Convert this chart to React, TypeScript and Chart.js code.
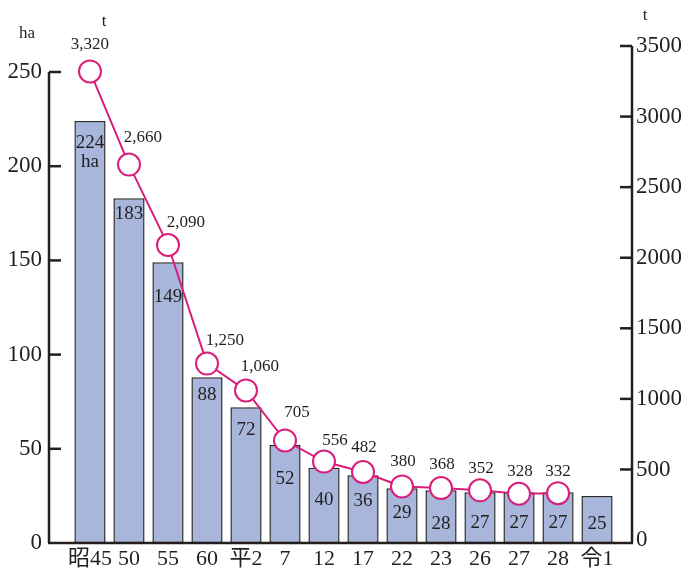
import React, { useEffect, useRef } from "react";
import { Chart, registerables } from "chart.js";

Chart.register(...registerables);

const categories = ["昭45", "50", "55", "60", "平2", "7", "12", "17", "22", "23", "26", "27", "28", "令1"];
const areaHa = [224, 183, 149, 88, 72, 52, 40, 36, 29, 28, 27, 27, 27, 25];
const harvestT = [3320, 2660, 2090, 1250, 1060, 705, 556, 482, 380, 368, 352, 328, 332];
const harvestLabels = ["3,320", "2,660", "2,090", "1,250", "1,060", "705", "556", "482", "380", "368", "352", "328", "332"];
const leftTicks = [0, 50, 100, 150, 200, 250];
const rightTicks = [0, 500, 1000, 1500, 2000, 2500, 3000, 3500];

// label placement (layout, not data)
const barLabelDrop = [22, 16, 35, 18, 23, 34, 32, 26, 25, 34, 31, 31, 31, 28];
const lineLabelDx = [0, 14, 18, 18, 14, 12, 11, 1, 1, 1, 1, 1, 0];
const lineLabelDy = [-27, -27, -22, -23, -24, -28, -21, -24, -25, -24, -22, -22, -22];

const FONT = '"Liberation Serif", "Noto Sans CJK JP", serif';
const INK = "#231f20";
const PINK = "#d81e7b";
const BAR = "#a8b6db";

const overlay = {
  id: "overlay",
  afterDatasetDraw(chart: any, args: any) {
    if (args.index !== 0) return;
    const ctx = chart.ctx;
    const meta = chart.getDatasetMeta(0);
    ctx.save();
    ctx.fillStyle = INK;
    ctx.font = `19px ${FONT}`;
    ctx.textAlign = "center";
    ctx.textBaseline = "middle";
    meta.data.forEach((bar: any, i: number) => {
      const y = bar.y + barLabelDrop[i];
      ctx.fillText(String(areaHa[i]), bar.x, y);
      if (i === 0) ctx.fillText("ha", bar.x, y + 19);
    });
    ctx.restore();
  },
  afterDraw(chart: any) {
    const ctx = chart.ctx;
    const { left, right, bottom } = chart.chartArea;
    const yL = chart.scales.y;
    const yR = chart.scales.y2;
    ctx.save();
    ctx.strokeStyle = INK;
    ctx.lineWidth = 2.5;
    ctx.lineCap = "butt";
    // left axis
    ctx.beginPath();
    ctx.moveTo(left, yL.getPixelForValue(250));
    ctx.lineTo(left, bottom);
    ctx.stroke();
    leftTicks.forEach((v) => {
      if (v === 0) return;
      const p = yL.getPixelForValue(v);
      ctx.beginPath();
      ctx.moveTo(left, p);
      ctx.lineTo(left + 12, p);
      ctx.stroke();
    });
    // right axis
    ctx.beginPath();
    ctx.moveTo(right, yR.getPixelForValue(3500));
    ctx.lineTo(right, bottom);
    ctx.stroke();
    rightTicks.forEach((v) => {
      if (v === 0) return;
      const p = yR.getPixelForValue(v);
      ctx.beginPath();
      ctx.moveTo(right, p);
      ctx.lineTo(right - 12, p);
      ctx.stroke();
    });
    // x axis
    ctx.beginPath();
    ctx.moveTo(left - 1, bottom);
    ctx.lineTo(right + 1, bottom);
    ctx.stroke();

    // line labels
    const meta = chart.getDatasetMeta(1);
    ctx.fillStyle = INK;
    ctx.font = `17px ${FONT}`;
    ctx.textAlign = "center";
    ctx.textBaseline = "middle";
    meta.data.forEach((pt: any, i: number) => {
      ctx.fillText(harvestLabels[i], pt.x + lineLabelDx[i], pt.y + lineLabelDy[i]);
    });
    // units
    const p0 = meta.data[0];
    ctx.fillText("t", p0.x + 14, 22);
    ctx.fillText("ha", 27, 34);
    ctx.fillText("t", 645, 16);
    ctx.restore();
  },
};

export default function App() {
  const ref = useRef<HTMLCanvasElement | null>(null);
  useEffect(() => {
    if (!ref.current) return;
    const chart = new Chart(ref.current, {
      type: "bar",
      data: {
        datasets: [
          {
            type: "bar",
            label: "面積",
            data: areaHa.map((v, i) => ({ x: i, y: v })),
            backgroundColor: BAR,
            borderColor: "#2b2b2b",
            borderWidth: 1.5,
            borderSkipped: false,
            categoryPercentage: 1,
            barPercentage: 0.8,
            yAxisID: "y",
            xAxisID: "x",
            order: 1,
          } as any,
          {
            type: "line",
            label: "収穫量",
            data: harvestT.map((v, i) => ({ x: i, y: v })),
            borderColor: PINK,
            borderWidth: 2,
            pointRadius: 11,
            pointBorderWidth: 2,
            pointBorderColor: PINK,
            pointBackgroundColor: "#ffffff",
            tension: 0,
            yAxisID: "y2",
            xAxisID: "x",
            order: 0,
          } as any,
        ],
      },
      options: {
        animation: false,
        responsive: true,
        maintainAspectRatio: false,
        layout: { padding: { top: 46, left: 0, right: 0, bottom: 0 } },
        plugins: { legend: { display: false }, tooltip: { enabled: false } },
        scales: {
          x: {
            type: "linear",
            min: -1.051,
            max: 13.897,
            offset: false,
            grid: { display: false, drawTicks: false },
            border: { display: false },
            afterBuildTicks: (s: any) => {
              s.ticks = categories.map((_, i) => ({ value: i }));
            },
            afterFit: (s: any) => {
              s.height = 28;
            },
            ticks: {
              autoSkip: false,
              maxRotation: 0,
              padding: 3,
              color: INK,
              font: { family: FONT, size: 22 },
              callback: (v: any) => categories[v as number],
            },
          },
          y: {
            type: "linear",
            position: "left",
            min: 0,
            max: 263.8,
            grid: { display: false, drawTicks: false },
            border: { display: false },
            afterBuildTicks: (s: any) => {
              s.ticks = leftTicks.map((v) => ({ value: v }));
            },
            afterFit: (s: any) => {
              s.width = 49;
            },
            ticks: { padding: 7, color: INK, font: { family: FONT, size: 23 } },
          },
          y2: {
            type: "linear",
            position: "right",
            min: -21,
            max: 3500,
            grid: { display: false, drawTicks: false },
            border: { display: false },
            afterBuildTicks: (s: any) => {
              s.ticks = rightTicks.map((v) => ({ value: v }));
            },
            afterFit: (s: any) => {
              s.width = 49;
            },
            ticks: {
              padding: 4,
              color: INK,
              font: { family: FONT, size: 23 },
              callback: (v: any) => String(v),
            },
          },
        },
      },
      plugins: [overlay],
    } as any);
    return () => chart.destroy();
  }, []);
  return (
    <div style={{ position: "fixed", left: 0, top: 0, width: 681, height: 571, background: "#fff" }}>
      <canvas ref={ref} style={{ display: "block" }} />
    </div>
  );
}
